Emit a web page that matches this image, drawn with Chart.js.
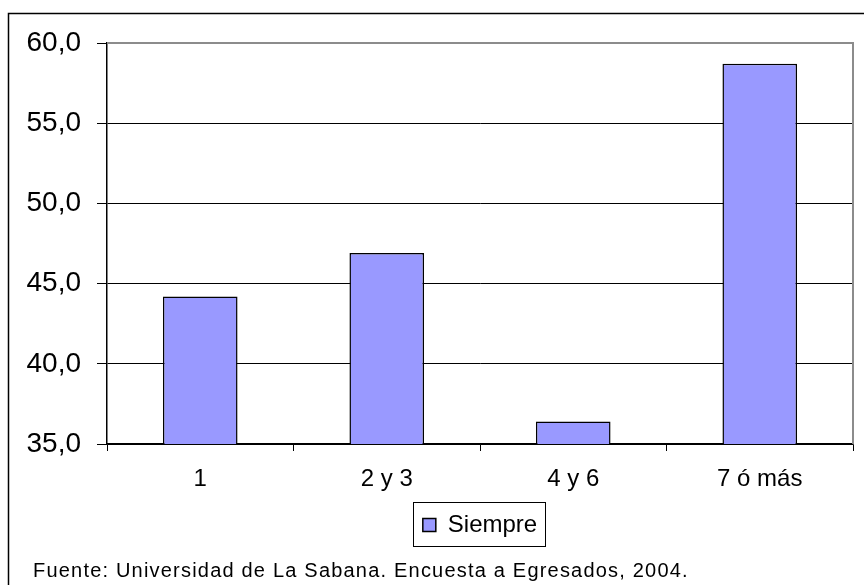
<!DOCTYPE html>
<html>
<head>
<meta charset="utf-8">
<script src="https://cdn.jsdelivr.net/npm/chart.js@4/dist/chart.umd.min.js"></script>
<style>
  html, body { margin: 0; padding: 0; background: #fff; }
  #wrap { width: 864px; height: 585px; }
</style>
</head>
<body>
<div id="wrap"><canvas id="grafico"></canvas></div>
<script>
// datos: porcentaje que responde "Siempre" según número de hijos/personas
const categorias = ['1', '2 y 3', '4 y 6', '7 ó más'];
const siempre = [44.2, 46.9, 36.4, 58.7];
const serieNombre = 'Siempre';
const ejeY = { min: 35, max: 60, paso: 5 };
const fuente = 'Fuente: Universidad de La Sabana. Encuesta a Egresados, 2004.';

const fontFam = "Arial, 'Liberation Sans', sans-serif";

// marco exterior, borde del área de trazado, caja de leyenda y nota al pie
const decoracion = {
    id: 'decoracion',
    beforeDraw(chart) {
        const c = chart.ctx;
        c.save();
        c.fillStyle = '#fff';
        c.fillRect(0, 0, chart.width, chart.height);
        c.strokeStyle = '#000';
        c.lineWidth = 1.5;
        c.strokeRect(8.5, 13.5, chart.width + 20, chart.height + 20);
        c.restore();
    },
    afterDatasetsDraw(chart) {
        const a = chart.chartArea;
        const c = chart.ctx;
        c.save();
        c.strokeStyle = '#8c8c8c';
        c.lineWidth = 2;
        c.beginPath();
        c.moveTo(a.left, a.top);
        c.lineTo(a.right, a.top);
        c.lineTo(a.right, a.bottom);
        c.stroke();
        c.restore();
    },
    afterDraw(chart) {
        const c = chart.ctx;
        const lg = chart.legend;
        c.save();
        if (lg && lg.legendHitBoxes && lg.legendHitBoxes.length) {
            const hb = lg.legendHitBoxes[0];
            c.strokeStyle = '#000';
            c.lineWidth = 1;
            const x0 = Math.round(hb.left) - 9.5;
            const y0 = Math.round(hb.top) - 10.5;
            c.strokeRect(x0, y0, Math.round(hb.width) + 18, Math.round(hb.height) + 20);
        }
        c.fillStyle = '#000';
        c.font = '20px ' + fontFam;
        c.letterSpacing = '1.2px';
        c.textBaseline = 'alphabetic';
        c.textAlign = 'left';
        c.fillText(fuente, 33, 577);
        c.restore();
    }
};

new Chart(document.getElementById('grafico'), {
    type: 'bar',
    data: {
        labels: categorias,
        datasets: [{
            label: serieNombre,
            data: siempre,
            backgroundColor: '#9999FF',
            borderColor: '#000',
            borderWidth: 1.5,
            categoryPercentage: 1,
            barPercentage: 0.4
        }]
    },
    options: {
        responsive: true,
        maintainAspectRatio: false,
        animation: false,
        devicePixelRatio: 1,
        layout: { padding: { top: 43, right: 11, bottom: 38, left: 0 } },
        plugins: {
            legend: {
                position: 'bottom',
                fullSize: false,
                labels: {
                    color: '#000',
                    font: { family: fontFam, size: 24 },
                    boxWidth: 13,
                    boxHeight: 13,
                    padding: 10
                }
            },
            tooltip: { enabled: false }
        },
        scales: {
            x: {
                grid: { display: true, drawOnChartArea: false, drawTicks: true, tickLength: 7, color: '#000', offset: true },
                border: { color: '#000', width: 1.5 },
                ticks: { color: '#000', font: { family: fontFam, size: 24 }, padding: 14, maxRotation: 0 },
                afterFit: (s) => { s.height = 59; }
            },
            y: {
                min: ejeY.min,
                max: ejeY.max,
                grid: {
                    color: (ctx) => ctx.tick && ctx.tick.value === ejeY.max ? '#8c8c8c' : '#000',
                    tickColor: '#000',
                    tickLength: 10,
                    lineWidth: 1
                },
                border: { color: '#000', width: 1.5 },
                ticks: {
                    stepSize: ejeY.paso,
                    color: '#000',
                    padding: 16,
                    font: { family: fontFam, size: 28 },
                    callback: (v) => v.toFixed(1).replace('.', ',')
                },
                afterFit: (s) => { s.width = 107; }
            }
        }
    },
    plugins: [decoracion]
});
</script>
</body>
</html>
